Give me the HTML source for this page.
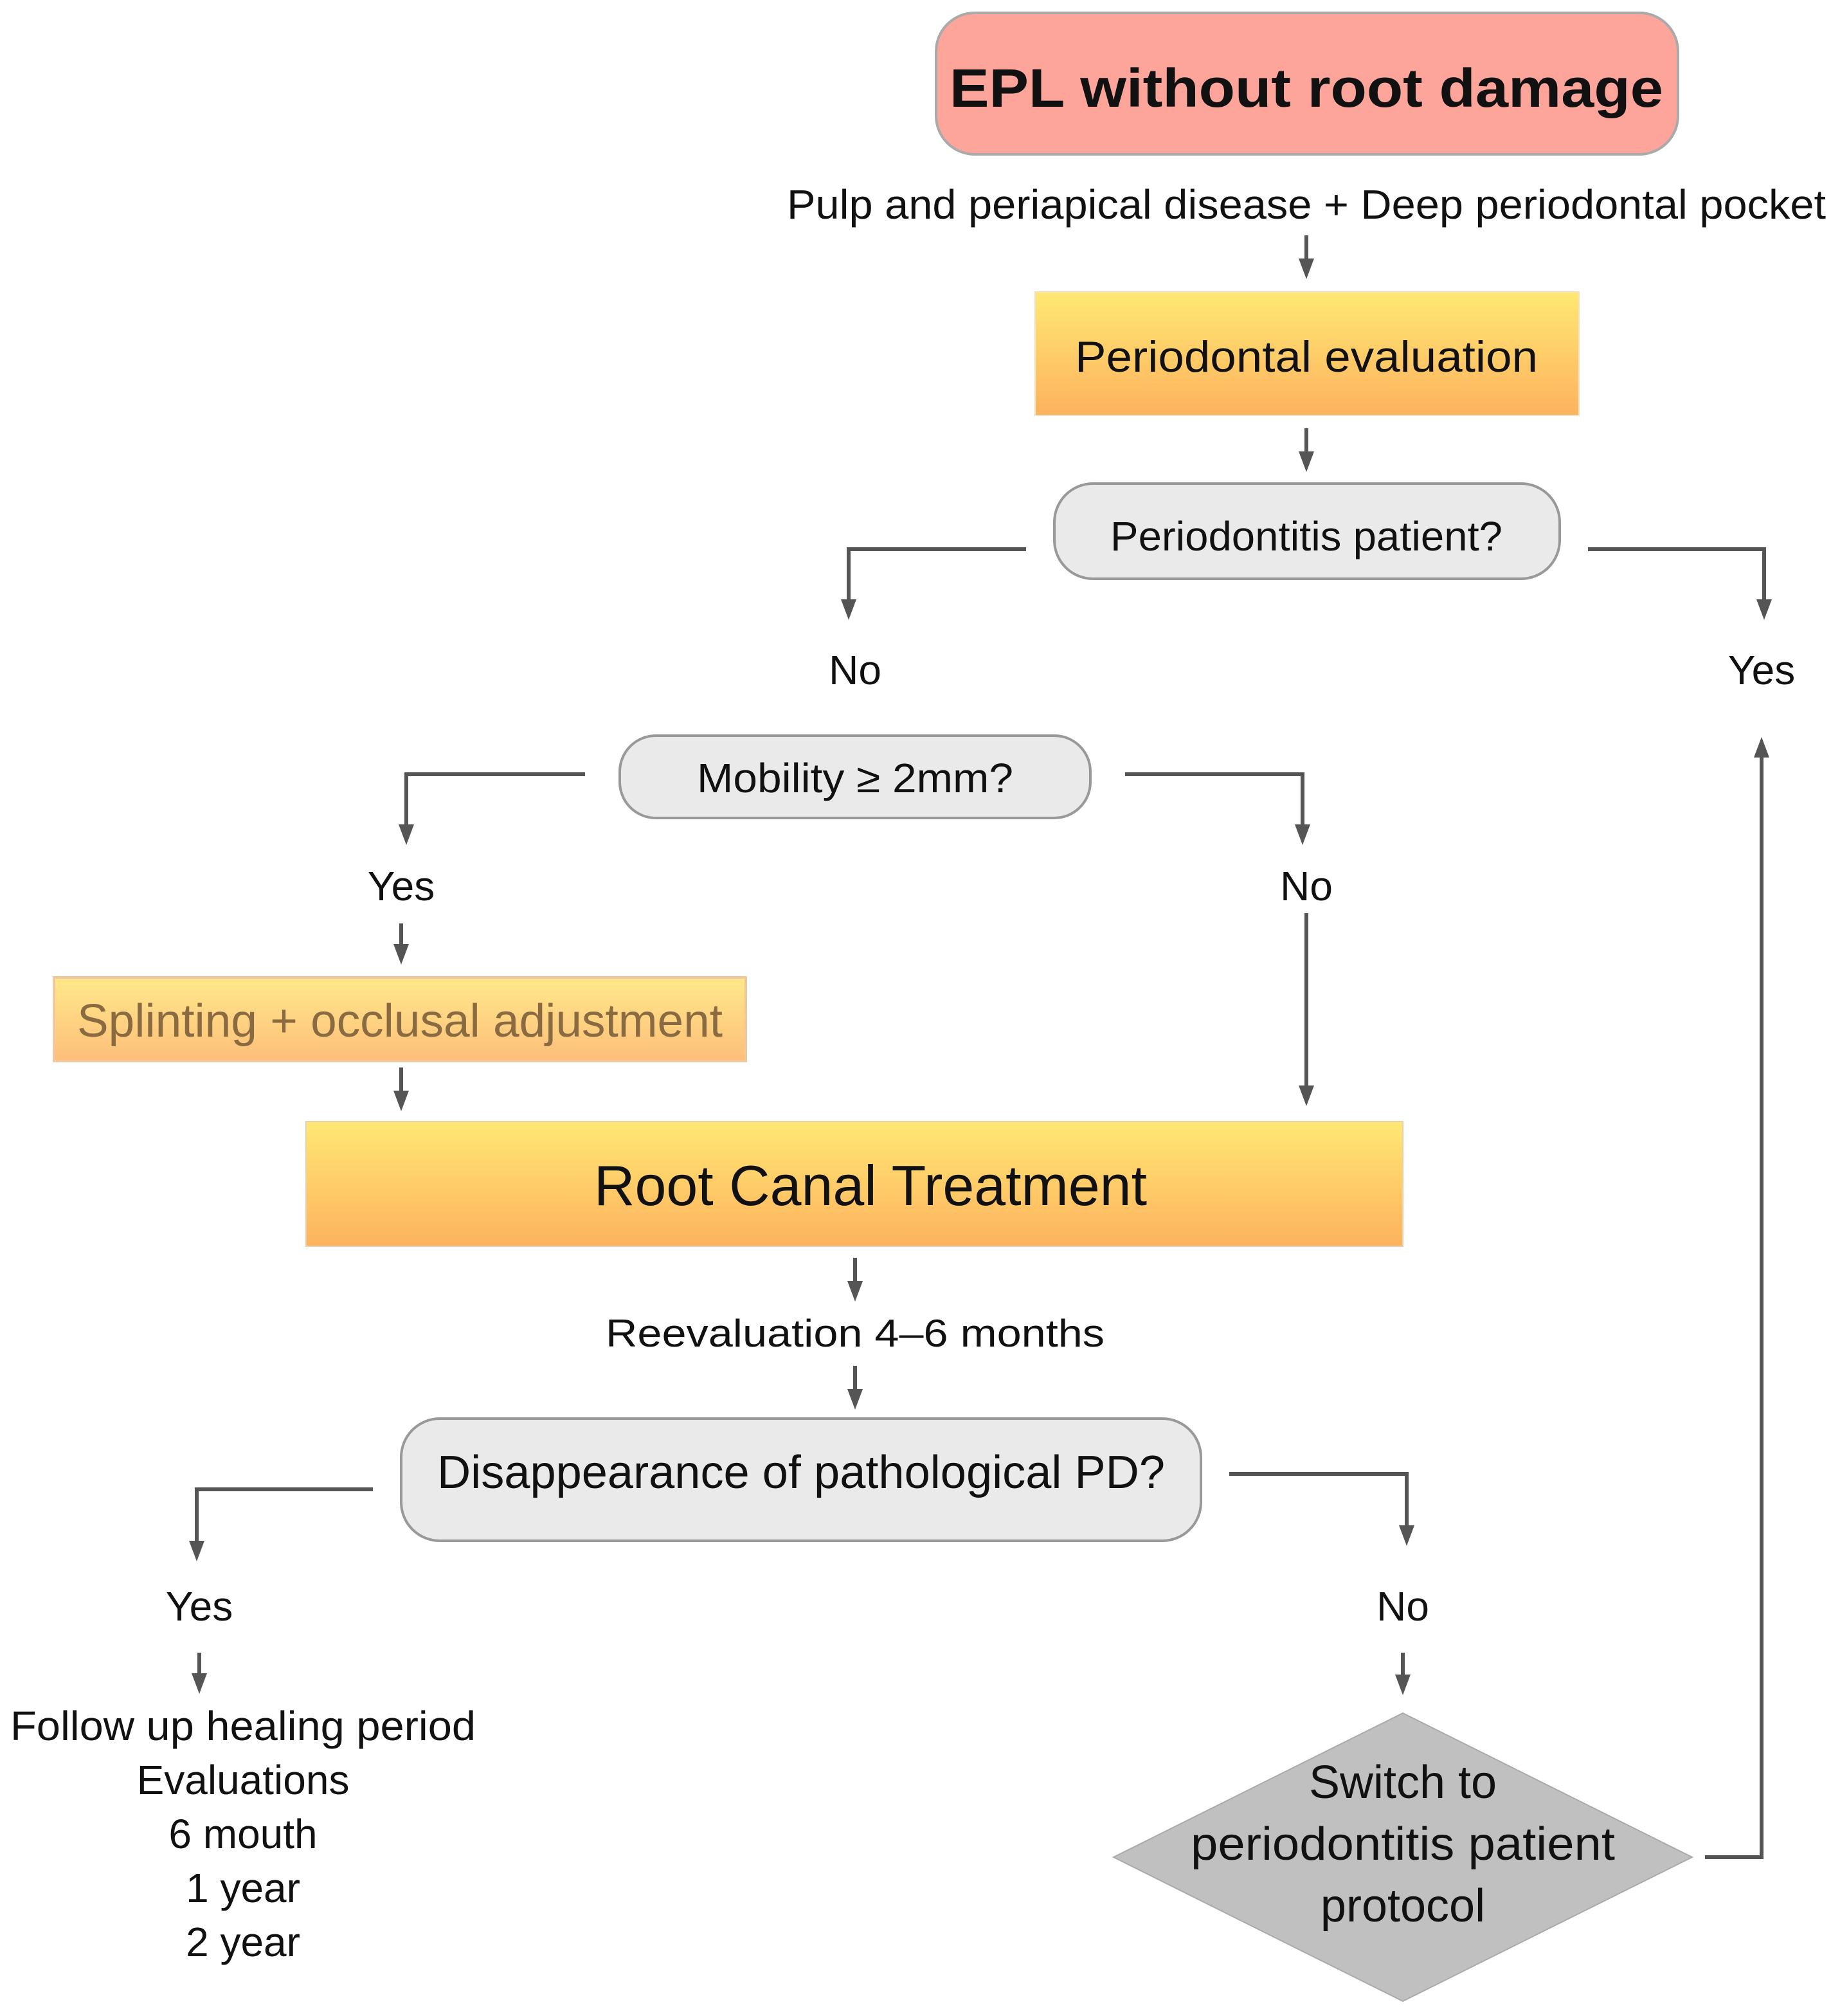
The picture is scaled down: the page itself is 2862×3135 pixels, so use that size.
<!DOCTYPE html>
<html><head><meta charset="utf-8"><style>html,body{margin:0;padding:0;background:#fff}svg{display:block}</style></head><body>
<svg width="2862" height="3135" viewBox="0 0 1431 1567.5" xmlns="http://www.w3.org/2000/svg" font-family="'Liberation Sans', sans-serif">
<defs>
<linearGradient id="g" x1="0" y1="0" x2="0" y2="1"><stop offset="0" stop-color="#ffe873"/><stop offset="1" stop-color="#fdb25e"/></linearGradient>
<linearGradient id="g2" x1="0" y1="0" x2="0" y2="1"><stop offset="0" stop-color="#ffe98a"/><stop offset="1" stop-color="#fdbe7a"/></linearGradient>
</defs>
<style>
.l{stroke:#555;stroke-width:3;fill:none}
.h{fill:#555}
text{fill:#111;text-anchor:middle}
</style>
<rect x="728" y="10" width="577" height="110" rx="30" fill="#fda59a" stroke="#aaa" stroke-width="2"/>
<text x="1016" y="83" font-size="42" font-weight="bold" textLength="555" lengthAdjust="spacingAndGlyphs">EPL without root damage</text>
<text x="1016" y="170" font-size="32" textLength="808" lengthAdjust="spacingAndGlyphs">Pulp and periapical disease + Deep periodontal pocket</text>
<path class="l" d="M1016 183 V205"/><polygon class="h" points="1010,201 1022,201 1016,217"/>
<rect x="805" y="227" width="423" height="96" fill="url(#g)" stroke="#f5e0c0"/>
<text x="1016" y="289" font-size="34" textLength="360" lengthAdjust="spacingAndGlyphs">Periodontal evaluation</text>
<path class="l" d="M1016 333 V355"/><polygon class="h" points="1010,351 1022,351 1016,367"/>
<rect x="820" y="376" width="393" height="74" rx="30" fill="#eaeaea" stroke="#999" stroke-width="2"/>
<text x="1016" y="428" font-size="32" textLength="305" lengthAdjust="spacingAndGlyphs">Periodontitis patient?</text>
<path class="l" d="M798 427 H660 V470"/><polygon class="h" points="654,466 666,466 660,482"/>
<path class="l" d="M1235 427 H1372 V470"/><polygon class="h" points="1366,466 1378,466 1372,482"/>
<text x="665" y="532" font-size="32">No</text>
<text x="1370" y="532" font-size="32">Yes</text>
<rect x="482" y="572" width="366" height="64" rx="28" fill="#eaeaea" stroke="#999" stroke-width="2"/>
<text x="665" y="616" font-size="32" textLength="246" lengthAdjust="spacingAndGlyphs">Mobility ≥ 2mm?</text>
<path class="l" d="M455 602 H316 V645"/><polygon class="h" points="310,641 322,641 316,657"/>
<path class="l" d="M875 602 H1013 V645"/><polygon class="h" points="1007,641 1019,641 1013,657"/>
<text x="312" y="700" font-size="32">Yes</text>
<text x="1016" y="700" font-size="32">No</text>
<path class="l" d="M312 718 V738"/><polygon class="h" points="306,734 318,734 312,750"/>
<rect x="42" y="760" width="538" height="65" fill="url(#g2)" stroke="#f0c8a0" stroke-width="2"/>
<text x="311" y="806" font-size="36" style="fill:#8a6a40" textLength="502" lengthAdjust="spacingAndGlyphs">Splinting + occlusal adjustment</text>
<path class="l" d="M312 830 V852"/><polygon class="h" points="306,848 318,848 312,864"/>
<path class="l" d="M1016 710 V848"/><polygon class="h" points="1010,844 1022,844 1016,860"/>
<rect x="238" y="872" width="853" height="97" fill="url(#g)" stroke="#e8d0b0"/>
<text x="677" y="937" font-size="44" textLength="430" lengthAdjust="spacingAndGlyphs">Root Canal Treatment</text>
<path class="l" d="M665 978 V1000"/><polygon class="h" points="659,996 671,996 665,1012"/>
<text x="665" y="1047" font-size="30" textLength="388" lengthAdjust="spacingAndGlyphs">Reevaluation 4–6  months</text>
<path class="l" d="M665 1062 V1084"/><polygon class="h" points="659,1080 671,1080 665,1096"/>
<rect x="312" y="1103" width="622" height="95" rx="30" fill="#eaeaea" stroke="#999" stroke-width="2"/>
<text x="623" y="1157" font-size="36" textLength="566" lengthAdjust="spacingAndGlyphs">Disappearance of pathological PD?</text>
<path class="l" d="M290 1158 H153 V1202"/><polygon class="h" points="147,1198 159,1198 153,1214"/>
<path class="l" d="M956 1146 H1094 V1190"/><polygon class="h" points="1088,1186 1100,1186 1094,1202"/>
<text x="155" y="1260" font-size="32">Yes</text>
<text x="1091" y="1260" font-size="32">No</text>
<path class="l" d="M155 1285 V1305"/><polygon class="h" points="149,1301 161,1301 155,1317"/>
<path class="l" d="M1091 1285 V1306"/><polygon class="h" points="1085,1302 1097,1302 1091,1318"/>
<g font-size="32">
<text x="189" y="1353" textLength="362" lengthAdjust="spacingAndGlyphs">Follow up healing period</text>
<text x="189" y="1395">Evaluations</text>
<text x="189" y="1437">6 mouth</text>
<text x="189" y="1479">1 year</text>
<text x="189" y="1521">2 year</text>
</g>
<polygon points="866,1444 1091,1332 1316,1444 1091,1556" fill="#c0c0c0" stroke="#aaa"/>
<g font-size="36">
<text x="1091" y="1398">Switch to</text>
<text x="1091" y="1446" textLength="330" lengthAdjust="spacingAndGlyphs">periodontitis patient</text>
<text x="1091" y="1494">protocol</text>
</g>
<path class="l" d="M1326 1444 H1370 V585"/><polygon class="h" points="1364,589 1376,589 1370,573"/>
</svg>
</body></html>
